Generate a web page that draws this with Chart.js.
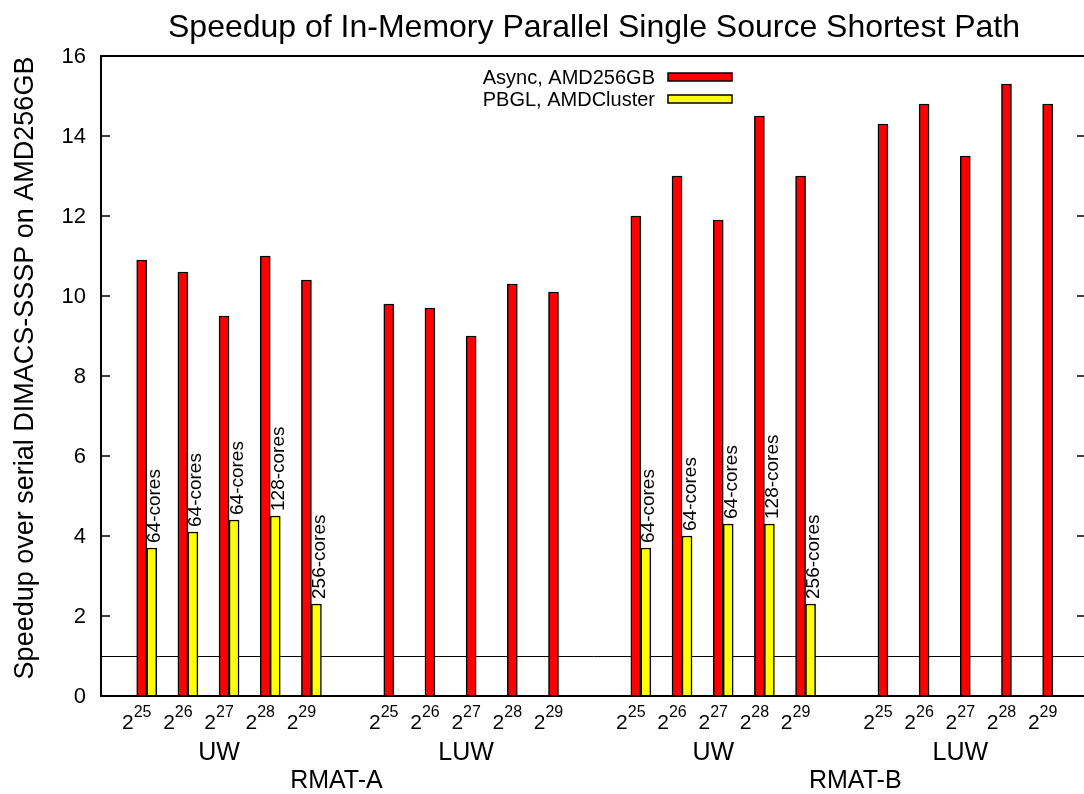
<!DOCTYPE html>
<html>
<head>
<meta charset="utf-8">
<script src="https://cdn.jsdelivr.net/npm/chart.js@4/dist/chart.umd.min.js"></script>
<style>
  html, body { margin: 0; padding: 0; background: #fff; overflow: hidden; }
  #sssp { display: block; }
</style>
</head>
<body>
<canvas id="sssp" width="1092" height="794"></canvas>
<script>
/* ===== SSSP speedup, Async vs PBGL ===== */

const sizeExp      = ['25', '26', '27', '28', '29'];
const weightGroups = ['UW', 'LUW', 'UW', 'LUW'];
const graphNames   = ['RMAT-A', 'RMAT-B'];
const graphLabelAt = [4.85, 17.45];   // in slot units on the x scale

// Async speedups, one array per (graph, weighting)
const asyncA_UW  = [10.9, 10.6, 9.5, 11.0, 10.4];
const asyncA_LUW = [9.8, 9.7, 9.0, 10.3, 10.1];
const asyncB_UW  = [12.0, 13.0, 11.9, 14.5, 13.0];
const asyncB_LUW = [14.3, 14.8, 13.5, 15.3, 14.8];

// PBGL only ran the unweighted inputs
const pbglA_UW  = [3.7, 4.1, 4.4, 4.5, 2.3];
const pbglB_UW  = [3.7, 4.0, 4.3, 4.3, 2.3];
const pbglCores = ['64-cores', '64-cores', '64-cores', '128-cores', '256-cores'];

const yTicks   = [0, 2, 4, 6, 8, 10, 12, 14, 16];
const baseline = 1;

const FONT = "'Liberation Sans', Arial, Helvetica, sans-serif";

// each weighting group takes 5 slots plus one empty slot after it
const asyncSeries = [asyncA_UW, asyncA_LUW, asyncB_UW, asyncB_LUW];
const pbglSeries  = [pbglA_UW, null, pbglB_UW, null];

const asyncData = [];
const pbglData  = [];
const coreLabels = [];
asyncSeries.forEach((vals, g) => {
  vals.forEach((v, i) => asyncData.push({ x: g * 6 + i, y: v }));
  if (pbglSeries[g]) {
    pbglSeries[g].forEach((v, i) => {
      pbglData.push({ x: g * 6 + i, y: v });
      coreLabels.push(pbglCores[i]);
    });
  }
});

function font(size) { return size + 'px ' + FONT; }

const decorPlugin = {
  id: 'decor',
  beforeDatasetsDraw(chart) {
    const { ctx, chartArea: a, scales: { y } } = chart;
    // speedup = 1 reference line
    ctx.save();
    ctx.strokeStyle = '#000';
    ctx.lineWidth = 1;
    const py = Math.round(y.getPixelForValue(baseline)) + 0.5;
    ctx.beginPath();
    ctx.moveTo(a.left, py);
    ctx.lineTo(a.right, py);
    ctx.stroke();
    ctx.restore();
  },
  afterDatasetsDraw(chart) {
    const { ctx, chartArea: a, scales: { x, y } } = chart;
    ctx.save();

    // frame
    ctx.strokeStyle = '#000';
    ctx.lineWidth = 2;
    ctx.strokeRect(a.left, a.top, a.right - a.left, a.bottom - a.top);

    // y ticks, inward on both sides, plus labels
    ctx.lineWidth = 1.5;
    ctx.fillStyle = '#000';
    ctx.font = font(22);
    ctx.textAlign = 'right';
    ctx.textBaseline = 'middle';
    yTicks.forEach(t => {
      const py = y.getPixelForValue(t);
      ctx.beginPath();
      ctx.moveTo(a.left, py);  ctx.lineTo(a.left + 9, py);
      ctx.moveTo(a.right, py); ctx.lineTo(a.right - 9, py);
      ctx.stroke();
      ctx.fillText(String(t), a.left - 15, py + 1);
    });

    // x tick labels 2^n
    ctx.textAlign = 'left';
    ctx.textBaseline = 'alphabetic';
    for (let g = 0; g < 4; g++) {
      sizeExp.forEach((e, i) => {
        const cx = x.getPixelForValue(g * 6 + i) - 10;
        ctx.font = font(21);
        const wb = ctx.measureText('2').width;
        ctx.font = font(16);
        const we = ctx.measureText(e).width;
        const x0 = cx - (wb + we) / 2;
        ctx.font = font(21);
        ctx.fillText('2', x0, 729);
        ctx.font = font(16);
        ctx.fillText(e, x0 + wb, 717);
      });
    }

    // weighting and graph labels
    ctx.textAlign = 'center';
    ctx.font = font(25);
    weightGroups.forEach((w, g) => {
      ctx.fillText(w, x.getPixelForValue(g * 6 + 2) - 10, 760);
    });
    graphNames.forEach((n, k) => {
      ctx.fillText(n, x.getPixelForValue(graphLabelAt[k]) - 10, 788);
    });

    // title
    ctx.font = font(32);
    ctx.fillText('Speedup of In-Memory Parallel Single Source Shortest Path', 594, 37);

    // y axis title
    ctx.save();
    ctx.translate(33, 368);
    ctx.rotate(-Math.PI / 2);
    ctx.font = font(27);
    ctx.fillText('Speedup over serial DIMACS-SSSP on AMD256GB', 0, 0);
    ctx.restore();

    // core counts above the PBGL bars
    const pbglMeta = chart.getDatasetMeta(1);
    ctx.font = font(19);
    ctx.textAlign = 'left';
    pbglMeta.data.forEach((bar, i) => {
      ctx.save();
      ctx.translate(bar.x + 8.5, bar.y - 5);
      ctx.rotate(-Math.PI / 2);
      ctx.fillText(coreLabels[i], 0, 0);
      ctx.restore();
    });

    // legend: label on the left, swatch on the right
    ctx.font = font(20);
    ctx.textAlign = 'right';
    ctx.textBaseline = 'middle';
    chart.data.datasets.forEach((ds, k) => {
      const cy = 77 + k * 22;
      ctx.fillStyle = '#000';
      ctx.fillText(ds.label, 655, cy + 1);
      ctx.fillStyle = ds.backgroundColor;
      ctx.fillRect(668, cy - 4, 64, 8);
      ctx.lineWidth = 1.5;
      ctx.strokeRect(668, cy - 4, 64, 8);
    });

    ctx.restore();
  }
};

new Chart(document.getElementById('sssp'), {
  type: 'bar',
  data: {
    datasets: [
      {
        label: 'Async, AMD256GB',
        data: asyncData,
        backgroundColor: '#ff0000',
        borderColor: '#000',
        borderWidth: 1.5,
        barThickness: 10
      },
      {
        label: 'PBGL, AMDCluster',
        data: pbglData,
        backgroundColor: '#ffff00',
        borderColor: '#000',
        borderWidth: 1.5,
        barThickness: 10
      }
    ]
  },
  options: {
    responsive: false,
    animation: false,
    devicePixelRatio: 1,
    layout: { padding: { left: 101, top: 56, right: 6, bottom: 98 } },
    plugins: {
      legend: { display: false },
      title: { display: false },
      tooltip: { enabled: false }
    },
    scales: {
      x: { type: 'linear', display: false, offset: false, min: -1.11, max: 22.81 },
      y: { display: false, min: 0, max: 16 }
    }
  },
  plugins: [decorPlugin]
});
</script>
</body>
</html>
